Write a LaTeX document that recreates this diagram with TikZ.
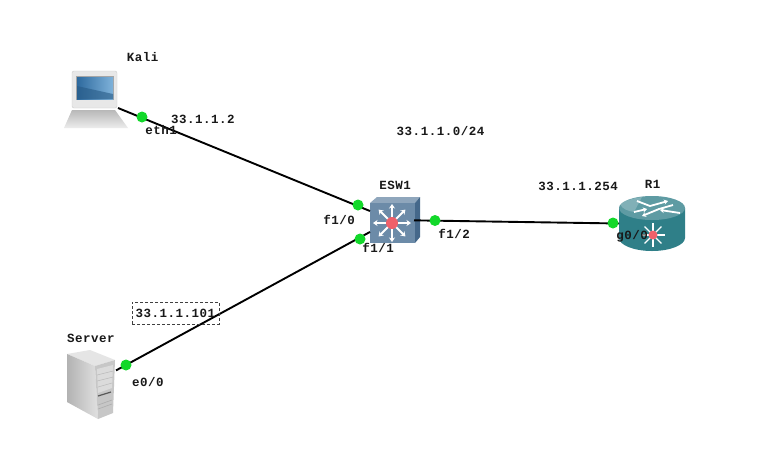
\documentclass[tikz,border=0pt]{standalone}
\usepackage{fontspec}
\setmainfont[LetterSpace=4]{Liberation Mono}
\usetikzlibrary{arrows.meta}
\definecolor{portgreen}{HTML}{12D82A}
\definecolor{swfront}{HTML}{6C8BA8}
\definecolor{swtop}{HTML}{8FA6BC}
\definecolor{swside}{HTML}{45688A}
\definecolor{rtop}{HTML}{5E9BA3}
\definecolor{rbody}{HTML}{2F7F88}
\definecolor{redc}{HTML}{F0606A}
\definecolor{scrdark}{HTML}{2E6A9E}
\definecolor{scrlight}{HTML}{7FB2DA}
\tikzset{
  x=1pt,y=-1pt,
  anchorbox/.style={rectangle,inner sep=0pt,outer sep=0pt},
  port/.style={circle,fill=portgreen,minimum size=11pt,inner sep=0pt},
  lab/.style={font=\fontsize{12.5}{13}\selectfont\bfseries,inner sep=0pt,text=black!90},
  link/.style={line width=1.9pt,black},
  whitearrow/.style={white,line width=1.8pt,-{Stealth[length=4.5pt,width=6pt]}},
  routerarrow/.style={white,line width=1.8pt,-{Stealth[length=4pt,width=5pt]}},
}
\begin{document}
\begin{tikzpicture}
\useasboundingbox (0,0) rectangle (762,459);
\fill[white] (0,0) rectangle (762,459);
% device anchor boxes
\node[anchorbox,minimum width=44pt,minimum height=60pt] (kali) at (96,99) {};
\node[anchorbox,minimum width=44pt,minimum height=44pt] (esw) at (392,220) {};
\node[anchorbox,minimum width=50pt,minimum height=70pt] (server) at (91,384) {};
\node[anchorbox,minimum width=66pt,minimum height=44pt] (router) at (652,224) {};
% laptop
\shade[top color=black!28,bottom color=black!7] (64,128) -- (72,110) -- (115,110) -- (128,128) -- cycle;
\fill[black!9,rounded corners=2pt] (72,71) rectangle (117,108);
\draw[black!20,rounded corners=2pt] (72,71) rectangle (117,108);
\fill[black!35] (76,76) rectangle (114,100);
\shade[left color=scrdark,right color=scrlight] (77,77) rectangle (113,99);
\fill[scrdark!85!black,opacity=.6] (77,86) -- (113,94) -- (113,99) -- (77,99) -- cycle;
% switch
\fill[swtop] (370,203) -- (377,197) -- (420,197) -- (415,203) -- cycle;
\fill[swside] (415,203) -- (420,197) -- (420,237) -- (415,243) -- cycle;
\fill[swfront] (370,203) rectangle (415,243);
\foreach \a in {0,45,...,315}{\draw[whitearrow] (392,223) -- ++(\a:19);}
\fill[redc] (392,223) circle (6);
% router
\fill[rbody] (619,208) -- (619,238) .. controls (619,245) and (634,251) .. (652,251) .. controls (670,251) and (685,245) .. (685,238) -- (685,208) -- cycle;
\fill[rtop] (652,208) ellipse[x radius=33,y radius=12];
\fill[white,opacity=.22] (620,204) .. controls (626,200) and (634,198) .. (642,197) -- (634,212) .. controls (628,211) and (622,209) .. (620,204) -- cycle;
\draw[routerarrow] (637,201) -- (650,206) -- (668,201);
\draw[routerarrow] (673,205) -- (659,209) -- (642,216);
\draw[routerarrow] (634,212) -- (647,209);
\draw[routerarrow] (680,213) -- (660,210);
\foreach \a in {0,45,...,315}{\draw[white,line width=1.3pt] (653,235) -- ++(\a:12);}
\fill[redc] (653,235) circle (4.5);
% server
\fill[black!10] (67,354) -- (90,350) -- (115,360) -- (95,366) -- cycle;
\shade[left color=black!30,right color=black!12] (67,354) -- (95,366) -- (98,419) -- (67,402) -- cycle;
\fill[black!22] (95,366) -- (115,360) -- (113,413) -- (98,419) -- cycle;
\fill[black!14] (97,369) -- (113,365) -- (112,388) -- (98,393) -- cycle;
\draw[black!28,line width=.5pt] (97,375) -- (113,371) (97,381) -- (113,377) (98,387) -- (112,383);
\draw[black!65,line width=1.2pt] (98,396) -- (111,392);
\draw[black!32,line width=.6pt] (98,405) -- (112,400) (98,409) -- (112,404);
% links
\draw[link] (kali) -- (esw);
\draw[link] (server) -- (esw);
\draw[link] (esw) -- (router);
% ports
\node[port] (pkali) at (142,117) {};
\node[port] (pesw0) at (358,205) {};
\node[port] (pesw1) at (360,239) {};
\node[port] (pesw2) at (435,220.5) {};
\node[port] (pr) at (613,223) {};
\node[port] (psrv) at (126,365) {};
% labels
\node[lab] (lkali) at (142.5,57) {Kali};
\node[lab] (leth) at (161,130.5) {eth1};
\node[lab] (lip1) at (203,119) {33.1.1.2};
\node[lab] (lnet) at (440.5,131) {33.1.1.0/24};
\node[lab] (lesw) at (395,185) {ESW1};
\node[lab] (lf0) at (339,219.5) {f1/0};
\node[lab] (lf1) at (378,248) {f1/1};
\node[lab] (lf2) at (454,234) {f1/2};
\node[lab] (lip2) at (578,186) {33.1.1.254};
\node[lab] (lr1) at (652.5,184) {R1};
\node[lab] (lg) at (632,236) {g0/0};
\node[lab,draw=black!75,densely dashed,line width=.7pt,minimum width=87pt,minimum height=22pt] (lip3) at (175.5,313) {33.1.1.101};
\node[lab] (lsrv) at (91,338) {Server};
\node[lab] (le) at (148,382) {e0/0};
\end{tikzpicture}
\end{document}
